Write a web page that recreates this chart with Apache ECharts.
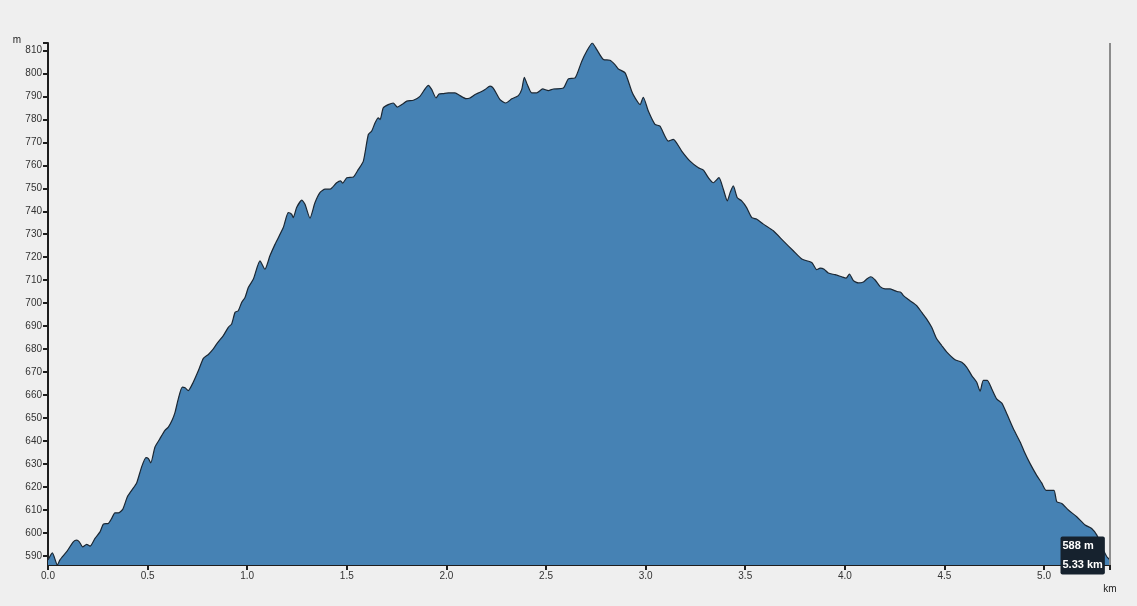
<!DOCTYPE html>
<html>
<head>
<meta charset="utf-8">
<title>Elevation profile</title>
<script src="https://cdn.jsdelivr.net/npm/echarts@6.0.0/dist/echarts.min.js"></script>
<style>
  html, body { margin: 0; padding: 0; background: #efefef; }
  #chart { width: 1137px; height: 606px; }
</style>
</head>
<body>
<div id="chart"></div>
<script>
// distance along the track (km) and elevation (m)
const distanceKm = [
  0, 0.022, 0.047, 0.060, 0.094, 0.127, 0.144, 0.157, 0.174, 0.194,
  0.211, 0.236, 0.261, 0.278, 0.303, 0.320, 0.336, 0.353, 0.375, 0.398,
  0.420, 0.445, 0.470, 0.492, 0.504, 0.516, 0.537, 0.562, 0.587, 0.604,
  0.624, 0.638, 0.654, 0.674, 0.688, 0.704, 0.729, 0.755, 0.780, 0.805,
  0.830, 0.847, 0.880, 0.905, 0.922, 0.939, 0.955, 0.972, 0.989, 1.006,
  1.031, 1.064, 1.089, 1.114, 1.140, 1.181, 1.206, 1.223, 1.231, 1.248,
  1.274, 1.290, 1.315, 1.340, 1.365, 1.391, 1.416, 1.449, 1.469, 1.479,
  1.500, 1.533, 1.558, 1.583, 1.608, 1.625, 1.642, 1.658, 1.667, 1.683,
  1.708, 1.733, 1.754, 1.776, 1.801, 1.834, 1.867, 1.909, 1.926, 1.948,
  1.963, 1.984, 2.010, 2.043, 2.068, 2.098, 2.118, 2.144, 2.169, 2.194,
  2.219, 2.235, 2.269, 2.298, 2.328, 2.361, 2.378, 2.391, 2.406, 2.428,
  2.453, 2.483, 2.512, 2.537, 2.587, 2.612, 2.646, 2.679, 2.704, 2.732,
  2.755, 2.788, 2.821, 2.846, 2.863, 2.897, 2.930, 2.947, 2.972, 2.988,
  3.014, 3.047, 3.072, 3.114, 3.139, 3.181, 3.223, 3.265, 3.290, 3.315,
  3.340, 3.368, 3.390, 3.410, 3.424, 3.440, 3.460, 3.482, 3.507, 3.533,
  3.558, 3.591, 3.641, 3.691, 3.741, 3.784, 3.834, 3.859, 3.876, 3.896,
  3.917, 3.951, 3.984, 4.006, 4.023, 4.043, 4.068, 4.093, 4.110, 4.130,
  4.152, 4.177, 4.202, 4.227, 4.261, 4.282, 4.294, 4.327, 4.361, 4.386,
  4.411, 4.436, 4.461, 4.486, 4.512, 4.553, 4.587, 4.612, 4.637, 4.662,
  4.679, 4.695, 4.715, 4.737, 4.762, 4.788, 4.813, 4.846, 4.880, 4.905,
  4.930, 4.963, 4.988, 5.010, 5.030, 5.050, 5.064, 5.089, 5.122, 5.164,
  5.206, 5.239, 5.265, 5.290, 5.315, 5.331
];
const elevationM = [
  588.3, 591.4, 586.1, 588.3, 591.9, 596.2, 596.9, 596.2, 594.0, 595.1,
  594.3, 597.7, 600.5, 603.9, 604.2, 606.4, 608.8, 608.8, 610.3, 615.7,
  618.6, 621.8, 628.8, 632.8, 632.4, 630.5, 637.4, 641.1, 644.7, 646.1,
  649.3, 652.6, 658.4, 663.5, 663.2, 662.0, 665.6, 670.7, 676.0, 677.7,
  680.1, 682.3, 685.9, 689.5, 691.0, 696.0, 696.7, 700.3, 702.5, 706.9,
  710.5, 718.4, 714.8, 720.6, 725.7, 732.9, 739.4, 738.7, 737.2, 741.6,
  744.8, 743.0, 737.0, 743.7, 748.1, 749.6, 749.6, 752.4, 753.2, 752.2,
  754.6, 754.9, 758.2, 761.8, 773.4, 774.9, 778.5, 780.6, 779.9, 785.0,
  786.4, 787.1, 785.3, 786.4, 787.9, 788.3, 790.0, 794.8, 793.0, 789.3,
  791.0, 791.2, 791.5, 791.5, 790.3, 789.0, 789.3, 790.8, 791.8, 793.0,
  794.4, 793.6, 788.6, 787.1, 788.9, 790.3, 793.0, 798.3, 795.1, 791.5,
  791.5, 793.2, 792.5, 793.2, 793.6, 797.6, 798.0, 805.2, 809.6, 813.2,
  810.3, 806.0, 805.7, 803.8, 801.9, 800.2, 792.2, 789.3, 786.4, 789.6,
  783.5, 777.8, 777.0, 770.5, 771.3, 766.2, 761.8, 758.9, 757.9, 754.6,
  752.4, 754.6, 749.6, 744.5, 748.1, 751.0, 745.9, 744.5, 741.6, 737.2,
  736.5, 734.4, 731.5, 727.1, 722.8, 719.2, 717.7, 714.6, 715.3, 714.8,
  713.1, 712.4, 711.5, 710.9, 712.7, 709.8, 708.8, 709.2, 710.5, 711.5,
  710.1, 707.2, 706.2, 706.2, 705.1, 704.7, 703.3, 701.1, 698.9, 696.0,
  693.1, 689.5, 684.5, 681.6, 678.7, 675.4, 674.3, 672.1, 668.5, 665.6,
  661.7, 666.4, 666.4, 662.8, 658.4, 656.5, 651.9, 645.4, 639.6, 634.6,
  630.2, 625.1, 621.8, 618.6, 618.6, 618.6, 613.6, 612.9, 610.0, 607.1,
  603.5, 602.0, 599.1, 594.0, 589.7, 588.3
];
const xTicks = [0, 0.5, 1.0, 1.5, 2.0, 2.5, 3.0, 3.5, 4.0, 4.5, 5.0];
const yTicks = [590, 600, 610, 620, 630, 640, 650, 660, 670, 680, 690,
  700, 710, 720, 730, 740, 750, 760, 770, 780, 790, 800, 810];

const FONT = '"Liberation Sans", Arial, sans-serif';
const AXIS_COLOR = '#1e1e1e';

const points = distanceKm.map((d, i) => [d, elevationM[i]]);
const lastKm = distanceKm[distanceKm.length - 1];
const lastElev = elevationM[elevationM.length - 1];
const minElev = Math.min(...elevationM);
const maxElev = Math.max(...elevationM);

const chart = echarts.init(document.getElementById('chart'), null, { renderer: 'canvas' });

chart.setOption({
  backgroundColor: '#efefef',
  animation: false,
  textStyle: { fontFamily: FONT },
  grid: { left: 48, right: 27, top: 43, bottom: 41, outerBoundsMode: 'none' },
  xAxis: {
    type: 'value',
    min: 0,
    max: lastKm,
    name: 'km',
    nameLocation: 'end',
    nameGap: 0,
    nameTextStyle: {
      color: '#222', fontSize: 10, align: 'center', verticalAlign: 'top',
      padding: [19, 0, 0, 0]
    },
    axisLine: { show: true, lineStyle: { color: AXIS_COLOR, width: 2 } },
    axisTick: {
      show: true, length: 5, inside: false,
      customValues: xTicks.concat([lastKm]),
      lineStyle: { color: AXIS_COLOR, width: 2 }
    },
    axisLabel: {
      customValues: xTicks,
      color: '#333', fontSize: 10, margin: 6,
      formatter: v => v.toFixed(1)
    },
    splitLine: { show: false }
  },
  yAxis: {
    type: 'value',
    min: minElev,
    max: maxElev,
    name: 'm',
    nameLocation: 'end',
    nameGap: 4,
    nameTextStyle: {
      color: '#222', fontSize: 10, align: 'right', verticalAlign: 'top',
      padding: [0, 27, 0, 0]
    },
    axisLine: { show: true, lineStyle: { color: AXIS_COLOR, width: 2 } },
    axisTick: {
      show: true, length: 5, inside: false,
      customValues: yTicks.concat([maxElev]),
      lineStyle: { color: AXIS_COLOR, width: 2 }
    },
    axisLabel: {
      customValues: yTicks,
      color: '#333', fontSize: 10, margin: 6
    },
    splitLine: { show: false }
  },
  series: [{
    type: 'line',
    data: points,
    smooth: 0.2,
    showSymbol: false,
    lineStyle: { color: '#1b2733', width: 1.2 },
    areaStyle: { color: '#4682b4', opacity: 1, origin: 'start' },
    markLine: {
      silent: true,
      symbol: 'none',
      label: { show: false },
      lineStyle: { color: '#8c8c8c', width: 2, type: 'solid' },
      data: [{ xAxis: lastKm }]
    },
    markPoint: {
      silent: true,
      symbol: 'circle',
      symbolSize: 1,
      itemStyle: { color: 'rgba(0,0,0,0)' },
      label: {
        show: true,
        position: [-49, -23],
        align: 'left',
        verticalAlign: 'top',
        color: '#fff',
        fontSize: 11,
        fontWeight: 'bold',
        lineHeight: 19,
        backgroundColor: '#16222e',
        padding: [0, 2, 0, 2],
        borderRadius: 2,
        formatter: () => Math.round(lastElev) + ' m\n' + lastKm.toFixed(2) + ' km'
      },
      data: [{ coord: [lastKm, lastElev] }]
    }
  }]
});
</script>
</body>
</html>
